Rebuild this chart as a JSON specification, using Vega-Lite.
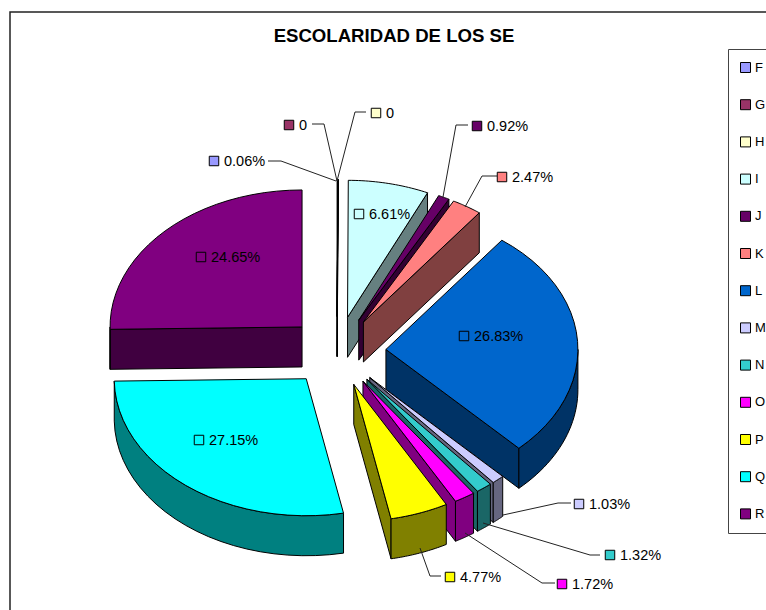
{
"$schema":"https://vega.github.io/schema/vega-lite/v6.json",
"width":760,"height":600,
"autosize":{"type":"none"},
"padding":{"left":10,"top":12,"right":0,"bottom":0},
"background":"white",
"config":{"view":{"stroke":"#222","strokeWidth":1.5},"font":"Liberation Sans"},
"title":{"text":"ESCOLARIDAD DE LOS SE","anchor":"middle","dx":4,"offset":-34,"fontSize":18.6,"fontWeight":"bold","font":"Liberation Sans","color":"black"},
"data":{"values":[
{"seg":"F","value":0.06},{"seg":"G","value":0},{"seg":"H","value":0},{"seg":"I","value":6.61},{"seg":"J","value":0.92},{"seg":"K","value":2.47},{"seg":"L","value":26.83},{"seg":"M","value":1.03},{"seg":"N","value":1.32},{"seg":"O","value":1.72},{"seg":"P","value":4.77},{"seg":"Q","value":27.15},{"seg":"R","value":24.65}
]},
"transform":[
{"joinaggregate":[{"op":"sum","field":"value","as":"total"}]},
{"window":[{"op":"sum","field":"value","as":"cum"}],"frame":[null,0]},
{"calculate":"(datum.cum-datum.value)/datum.total*2*PI","as":"a0"},
{"calculate":"datum.cum/datum.total*2*PI","as":"a1"},
{"calculate":"337+49*sin((datum.a0+datum.a1)/2)","as":"cx"},
{"calculate":"351.5-35*cos((datum.a0+datum.a1)/2)","as":"cy"},
{"calculate":"{'F':'#4D4D80','G':'#4D1933','H':'#808066','I':'#668080','J':'#330033','K':'#804040','L':'#003366','M':'#666680','N':'#1A6666','O':'#800080','P':'#808000','Q':'#008080','R':'#400040'}[datum.seg]","as":"dark"},
{"calculate":"{'F':[214,161],'G':[289,125],'H':[376,113],'I':[359,214],'J':[477,126],'K':[502,177],'L':[464,336],'M':[579,504],'N':[610,555],'O':[562,584],'P':[450,577],'Q':[199,440],'R':[201,257]}[datum.seg]","as":"key"},
{"calculate":"datum.value==0?'0':format(datum.value,'.2f')+'%'","as":"label"}
],
"encoding":{
"x":{"field":"px","type":"quantitative","scale":{"domain":[10,770],"range":[0,760]},"axis":null},
"y":{"field":"py","type":"quantitative","scale":{"domain":[12,612],"range":[0,600]},"axis":null}
},
"layer":[
{"transform":[
{"calculate":"sin(datum.a1)>1e-9?datum.a1:(sin(datum.a0)<-1e-9?datum.a0:null)","as":"cut"},
{"filter":"datum.cut!==null"},
{"calculate":"[0,1,2,3,4]","as":"i"},{"flatten":["i"]},
{"calculate":"datum.i==0||datum.i==3||datum.i==4?datum.cx:datum.cx+192*sin(datum.cut)","as":"px"},
{"calculate":"(datum.i==0||datum.i==3||datum.i==4?datum.cy:datum.cy-137*cos(datum.cut))+(datum.i==2||datum.i==3?40:0)","as":"py"}],
"mark":{"type":"line","stroke":"black","strokeWidth":1,"strokeJoin":"round"},
"encoding":{"detail":{"field":"seg"},"order":{"field":"i","type":"quantitative"},"fill":{"field":"dark","type":"nominal","scale":null}}},
{"transform":[
{"calculate":"max(datum.a0,PI/2)","as":"r0"},{"calculate":"min(datum.a1,3*PI/2)","as":"r1"},
{"filter":"datum.r1>datum.r0"},
{"calculate":"[0,1,2,3,4,5,6,7,8,9,10,11,12,13,14,15,16,17,18,19,20,21,22,23,24,25,26,27,28,29,30,31,32,33,34,35,36,37,38,39,40,41,42,43,44,45,46,47,48,49,50]","as":"i"},{"flatten":["i"]},
{"calculate":"datum.i>=50?0:(datum.i<=24?datum.i:49-datum.i)","as":"s"},
{"calculate":"datum.r0+(datum.r1-datum.r0)*datum.s/24","as":"ang"},
{"calculate":"datum.cx+192*sin(datum.ang)","as":"px"},
{"calculate":"datum.cy-137*cos(datum.ang)+(datum.i>=25&&datum.i<50?40:0)","as":"py"}],
"mark":{"type":"line","stroke":"black","strokeWidth":1,"strokeJoin":"round"},
"encoding":{"detail":{"field":"seg"},"order":{"field":"i","type":"quantitative"},"fill":{"field":"dark","type":"nominal","scale":null}}},
{"transform":[
{"calculate":"[0,1,2,3,4,5,6,7,8,9,10,11,12,13,14,15,16,17,18,19,20,21,22,23,24,25,26]","as":"i"},{"flatten":["i"]},
{"calculate":"datum.a0+(datum.a1-datum.a0)*(datum.i-1)/24","as":"ang"},
{"calculate":"datum.i==0||datum.i==26?datum.cx:datum.cx+192*sin(datum.ang)","as":"px"},
{"calculate":"datum.i==0||datum.i==26?datum.cy:datum.cy-137*cos(datum.ang)","as":"py"}],
"mark":{"type":"line","stroke":"black","strokeWidth":1,"strokeJoin":"round"},
"encoding":{"detail":{"field":"seg"},"order":{"field":"i","type":"quantitative"},
"fill":{"field":"seg","type":"nominal"}}},
{"transform":[
{"calculate":"{'F':[[268,161],[281,161],[336,181]],'G':[[312,124],[324,124],[337,181]],'H':[[366,112],[355,112],[337,181]],'J':[[468,125],[456,125],[443,197]],'K':[[497,176],[482,176],[465,207]],'M':[[571,503],[558,503],[503,515]],'N':[[600,555],[590,555],[483,523]],'O':[[555,583],[542,583],[465,533]],'P':[[441,576],[430,576],[420,548]]}[datum.seg]","as":"lead"},
{"filter":"isArray(datum.lead)"},
{"calculate":"[0,1,2]","as":"i"},{"flatten":["i"]},
{"calculate":"datum.lead[datum.i][0]","as":"px"},
{"calculate":"datum.lead[datum.i][1]","as":"py"}],
"mark":{"type":"line","stroke":"#222","strokeWidth":1},
"encoding":{"detail":{"field":"seg"},"order":{"field":"i","type":"quantitative"}}},
{"transform":[{"calculate":"datum.key[0]","as":"px"},{"calculate":"datum.key[1]","as":"py"}],
"mark":{"type":"point","shape":"square","filled":true,"size":90,"stroke":"black","strokeWidth":1,"opacity":1},
"encoding":{"fill":{"field":"seg","type":"nominal","scale":{"domain":["F","G","H","I","J","K","L","M","N","O","P","Q","R"],"range":["#9999FF","#993366","#FFFFCC","#CCFFFF","#660066","#FF8080","#0066CC","#CCCCFF","#33CCCC","#FF00FF","#FFFF00","#00FFFF","#800080"]},
"legend":{"title":null,"orient":"none","legendX":718,"legendY":37,"symbolType":"square","symbolSize":100,"symbolOffset":-1,"symbolStrokeColor":"black","symbolStrokeWidth":1,"symbolOpacity":1,"labelFont":"Liberation Sans","labelFontSize":13,"labelColor":"black","rowPadding":22.2,"strokeColor":"#444","padding":12,"fillColor":"white","labelOffset":3}}}},
{"transform":[{"calculate":"datum.key[0]+10","as":"px"},{"calculate":"datum.key[1]+1","as":"py"}],
"mark":{"type":"text","align":"left","baseline":"middle","fontSize":14.5,"font":"Liberation Sans","color":"black"},
"encoding":{"text":{"field":"label"}}}
]
}
